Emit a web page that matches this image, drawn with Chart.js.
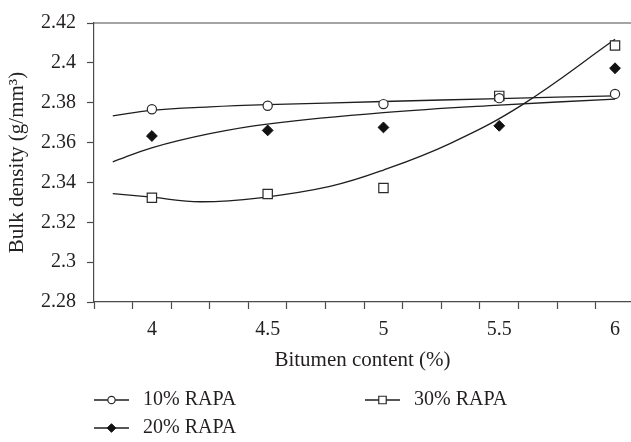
<!DOCTYPE html>
<html>
<head>
<meta charset="utf-8">
<title>Bulk density vs bitumen content</title>
<script src="https://cdn.jsdelivr.net/npm/chart.js@4.4.1/dist/chart.umd.min.js"></script>
<style>
  html, body { margin: 0; padding: 0; background: #ffffff; }
  #wrap { width: 631px; height: 442px; position: relative; }
</style>
</head>
<body>
<div id="wrap"><canvas id="chart" width="631" height="442"></canvas></div>
<script>
// Measured bulk density (g/mm³) at each bitumen content (%)
const bitumenContent = [4, 4.5, 5, 5.5, 6];
const rapa10 = [2.3767, 2.3785, 2.3793, 2.3823, 2.3844];
const rapa20 = [2.3633, 2.3661, 2.3676, 2.3684, 2.3973];
const rapa30 = [2.3323, 2.3342, 2.3372, 2.3834, 2.4087];

// Fitted trend curves, sampled along the bitumen axis
const trend10X = [3.831, 3.999, 4.25, 4.498, 5.0, 5.5, 6.0];
const trend10Y = [2.3734, 2.3762, 2.3779, 2.3790, 2.3806, 2.3821, 2.3834];
const trend20X = [3.831, 3.999, 4.25, 4.498, 5.0, 5.5, 6.0];
const trend20Y = [2.3503, 2.3574, 2.3645, 2.3693, 2.3750, 2.3788, 2.3818];
const trend30X = [3.831, 3.999, 4.208, 4.467, 4.769, 5.0, 5.287, 5.597, 6.0];
const trend30Y = [2.3344, 2.3326, 2.3303, 2.3323, 2.3380, 2.3462, 2.3595, 2.3788, 2.4118];

// Axis labels
const xTickValues = [4, 4.5, 5, 5.5, 6];
const xTickLabels = ['4', '4.5', '5', '5.5', '6'];
const yTickValues = [2.28, 2.3, 2.32, 2.34, 2.36, 2.38, 2.4, 2.42];
const yTickLabels = ['2.28', '2.3', '2.32', '2.34', '2.36', '2.38', '2.4', '2.42'];
const seriesNames = ['10% RAPA', '20% RAPA', '30% RAPA'];
const xTitle = 'Bitumen content (%)';
const yTitle = 'Bulk density (g/mm\u00B3)';

// x axis range and spacing of the small tick marks
const xMin = 3.75, xMax = 6.069, xMarkStep = 1 / 6;
const yMin = 2.28, yMax = 2.42;

const ink = '#231f20';
const axisColor = '#4a4a4a';
const FONT = '"Liberation Serif", "Times New Roman", serif';

const pts = (xs, ys) => xs.map((x, i) => ({ x: x, y: ys[i] }));

const markerStyles = [
  { pointStyle: 'circle', radius: 4.6, bg: '#ffffff', border: '#2a2a2a', bw: 1.2 },
  { pointStyle: 'rectRot', radius: 5.4, bg: '#111111', border: '#111111', bw: 1 },
  { pointStyle: 'rect', radius: 6.6, bg: '#ffffff', border: '#2a2a2a', bw: 1.2 }
];
const seriesValues = [rapa10, rapa20, rapa30];

const markerSets = seriesNames.map((name, i) => ({
  label: name,
  data: pts(bitumenContent, seriesValues[i]),
  showLine: false,
  pointStyle: markerStyles[i].pointStyle,
  pointRadius: markerStyles[i].radius,
  pointHoverRadius: markerStyles[i].radius,
  pointBackgroundColor: markerStyles[i].bg,
  pointBorderColor: markerStyles[i].border,
  pointBorderWidth: markerStyles[i].bw,
  legendEntry: true
}));

const trendSets = [[trend10X, trend10Y], [trend20X, trend20Y], [trend30X, trend30Y]].map(([xs, ys], i) => ({
  label: seriesNames[i] + ' trend',
  data: pts(xs, ys),
  borderColor: '#1e1e1e',
  borderWidth: 1.3,
  pointRadius: 0,
  pointHoverRadius: 0,
  fill: false,
  tension: 0.4
}));

// Legend drawn in two columns under the axis title
const legendLayout = [
  { col: 0, row: 0 },
  { col: 0, row: 1 },
  { col: 1, row: 0 }
];
const legendPlugin = {
  id: 'columnLegend',
  afterDraw(chart) {
    const ctx = chart.ctx;
    const colX = [94, 365];
    const rowY = [400, 428];
    const lineLen = 35;
    ctx.save();
    chart.data.datasets.forEach((ds, i) => {
      if (!ds.legendEntry) return;
      const pos = legendLayout[i];
      const x0 = colX[pos.col];
      const y = rowY[pos.row];
      ctx.strokeStyle = '#1e1e1e';
      ctx.lineWidth = 1.3;
      ctx.beginPath();
      ctx.moveTo(x0, y);
      ctx.lineTo(x0 + lineLen, y);
      ctx.stroke();
      ctx.fillStyle = ds.pointBackgroundColor;
      ctx.strokeStyle = ds.pointBorderColor;
      ctx.lineWidth = ds.pointBorderWidth;
      Chart.helpers.drawPoint(ctx, {
        pointStyle: ds.pointStyle,
        radius: ds.pointRadius * 0.8,
        borderWidth: ds.pointBorderWidth,
        rotation: 0
      }, x0 + lineLen / 2, y);
      ctx.fillStyle = ink;
      ctx.font = '20px ' + FONT;
      ctx.textAlign = 'left';
      ctx.textBaseline = 'middle';
      ctx.fillText(ds.label, x0 + lineLen + 14, y);
    });
    ctx.restore();
  }
};

// Top frame line of the plot
const topFramePlugin = {
  id: 'topFrame',
  afterDraw(chart) {
    const { ctx, chartArea } = chart;
    ctx.save();
    ctx.strokeStyle = axisColor;
    ctx.lineWidth = 1.2;
    ctx.beginPath();
    ctx.moveTo(chartArea.left, chartArea.top);
    ctx.lineTo(chartArea.right, chartArea.top);
    ctx.stroke();
    ctx.restore();
  }
};

const isLabelTick = v => xTickValues.some(t => Math.abs(t - v) < 1e-6);

new Chart(document.getElementById('chart'), {
  type: 'line',
  data: { datasets: [...markerSets, ...trendSets] },
  options: {
    responsive: false,
    animation: false,
    events: [],
    layout: { autoPadding: false, padding: { top: 16, right: 0, bottom: 60, left: 0 } },
    plugins: {
      legend: { display: false },
      tooltip: { enabled: false }
    },
    scales: {
      x: {
        type: 'linear',
        min: xMin,
        max: xMax,
        afterBuildTicks(scale) {
          const ticks = [];
          for (let v = xMin; v <= xMax + 1e-9; v += xMarkStep) ticks.push({ value: v });
          xTickValues.forEach(v => ticks.push({ value: v }));
          ticks.sort((a, b) => a.value - b.value);
          scale.ticks = ticks;
        },
        afterFit(scale) {
          scale.height = 80;
          scale.paddingLeft = 0;
          scale.paddingRight = 0;
        },
        grid: {
          drawOnChartArea: false,
          drawTicks: true,
          tickLength: 7,
          tickWidth: 1.2,
          tickColor: ctx => (ctx.tick && isLabelTick(ctx.tick.value)) ? 'rgba(0,0,0,0)' : axisColor
        },
        border: { display: true, color: axisColor, width: 1.2 },
        ticks: {
          autoSkip: false,
          maxRotation: 0,
          minRotation: 0,
          padding: 9,
          color: ink,
          font: { family: FONT, size: 20 },
          callback: v => {
            const i = xTickValues.findIndex(t => Math.abs(t - v) < 1e-6);
            return i >= 0 ? xTickLabels[i] : '';
          }
        },
        title: {
          display: true,
          text: xTitle,
          color: ink,
          font: { family: FONT, size: 21 },
          padding: { top: 0, bottom: 9 }
        }
      },
      y: {
        type: 'linear',
        min: yMin,
        max: yMax,
        afterBuildTicks(scale) {
          scale.ticks = yTickValues.map(v => ({ value: v }));
        },
        afterFit(scale) { scale.width = 94; },
        grid: {
          drawOnChartArea: false,
          drawTicks: true,
          tickLength: 7,
          tickWidth: 1.2,
          tickColor: axisColor
        },
        border: { display: true, color: axisColor, width: 1.2 },
        ticks: {
          autoSkip: false,
          padding: 11,
          color: ink,
          font: { family: FONT, size: 20 },
          callback: v => {
            const i = yTickValues.findIndex(t => Math.abs(t - v) < 1e-6);
            return i >= 0 ? yTickLabels[i] : '';
          }
        },
        title: {
          display: true,
          text: yTitle,
          color: ink,
          font: { family: FONT, size: 21 },
          padding: { top: 5, bottom: 0 }
        }
      }
    }
  },
  plugins: [legendPlugin, topFramePlugin]
});
</script>
</body>
</html>
